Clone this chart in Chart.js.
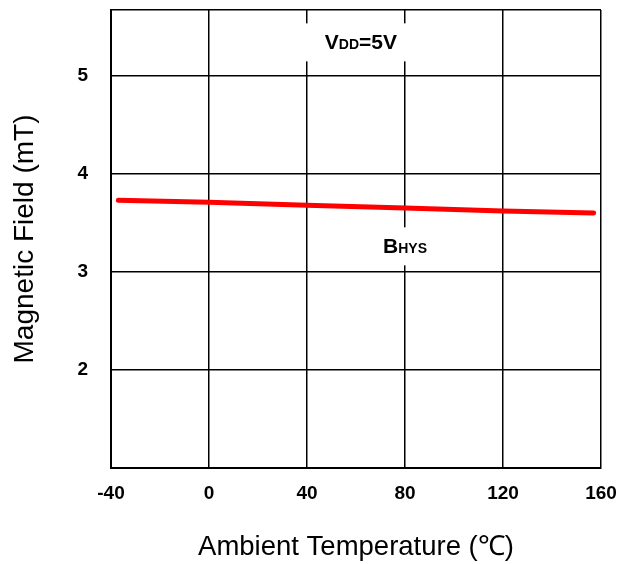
<!DOCTYPE html>
<html>
<head>
<meta charset="utf-8">
<script src="https://cdn.jsdelivr.net/npm/chart.js@4/dist/chart.umd.min.js"></script>
<style>
  html, body { margin: 0; padding: 0; background: #fff; }
  #wrap { width: 622px; height: 564px; }
</style>
</head>
<body>
<div id="wrap"><canvas id="hys"></canvas></div>
<script>
// values
var temps = [-37, 0, 40, 80, 120, 157];
var bhys = [3.73, 3.71, 3.68, 3.65, 3.62, 3.60];
var yTicks = [1, 2, 3, 4, 5, 5.67];
var yLabels = ['', '2', '3', '4', '5', ''];

var labelPlugin = {
    id: 'labels',
    beforeDatasetsDraw: function(chart) {
        var ctx = chart.ctx;
        var x = chart.scales.x, y = chart.scales.y;
        // white patch behind a label, then the label with a small subscript
        function tag(bx, cx, cy, big, small, tail, w) {
            ctx.save();
            ctx.fillStyle = '#fff';
            ctx.fillRect(bx - w / 2, cy - 19, w, 38);
            ctx.fillStyle = '#000';
            ctx.textBaseline = 'alphabetic';
            ctx.font = 'bold 21px "Liberation Sans", Arial, sans-serif';
            var w1 = ctx.measureText(big).width;
            var w3 = ctx.measureText(tail).width;
            ctx.font = 'bold 14px "Liberation Sans", Arial, sans-serif';
            var w2 = ctx.measureText(small).width;
            var sx = cx - (w1 + w2 + w3) / 2;
            var base = cy + 7;
            ctx.font = 'bold 21px "Liberation Sans", Arial, sans-serif';
            ctx.fillText(big, sx, base);
            ctx.font = 'bold 14px "Liberation Sans", Arial, sans-serif';
            ctx.fillText(small, sx + w1, base);
            ctx.font = 'bold 21px "Liberation Sans", Arial, sans-serif';
            ctx.fillText(tail, sx + w1 + w2, base);
            ctx.restore();
        }
        tag(x.getPixelForValue(60), x.getPixelForValue(62), y.getPixelForValue(5.34), 'V', 'DD', '=5V', 112);
        tag(x.getPixelForValue(80), x.getPixelForValue(80), y.getPixelForValue(3.26), 'B', 'HYS', '', 50);
    }
};

var ctx = document.getElementById('hys').getContext('2d');

var hysChart = new Chart(ctx, {
    type: 'line',
    data: {
        datasets: [{
            label: 'BHYS',
            data: temps.map(function(t, i) { return {x: t, y: bhys[i]}; }),
            borderColor: '#ff0000',
            borderWidth: 5,
            borderCapStyle: 'round',
            pointRadius: 0,
            tension: 0,
            fill: false
        }]
    },
    plugins: [labelPlugin],
    options: {
        responsive: true,
        maintainAspectRatio: false,
        animation: false,
        layout: {
            padding: {left: 0, right: 21, top: 10, bottom: 0}
        },
        plugins: {
            legend: {display: false},
            tooltip: {enabled: false}
        },
        scales: {
            x: {
                type: 'linear',
                min: -40,
                max: 160,
                afterFit: function(s) {
                    s.height = 96;
                    s.paddingLeft = 0;
                    s.paddingRight = 0;
                },
                ticks: {
                    stepSize: 40,
                    padding: 14,
                    color: '#000',
                    font: {family: '"Liberation Sans", Arial, sans-serif', size: 19, weight: 'bold'}
                },
                grid: {color: '#000', lineWidth: 1.5, drawTicks: false},
                border: {color: '#000', width: 2},
                title: {
                    display: true,
                    text: 'Ambient Temperature (\u2103)',
                    color: '#000',
                    padding: {top: 0, bottom: 0},
                    font: {family: '"Liberation Sans", Arial, sans-serif', size: 27.5}
                }
            },
            y: {
                min: 1,
                max: 5.67,
                afterFit: function(s) {
                    s.width = 111;
                    s.paddingTop = 0;
                    s.paddingBottom = 0;
                },
                afterBuildTicks: function(s) {
                    s.ticks = yTicks.map(function(v) { return {value: v}; });
                },
                ticks: {
                    padding: 23,
                    color: '#000',
                    font: {family: '"Liberation Sans", Arial, sans-serif', size: 19, weight: 'bold'},
                    callback: function(v, i) { return yLabels[i]; }
                },
                grid: {color: '#000', lineWidth: 1.5, drawTicks: false},
                border: {color: '#000', width: 2},
                title: {
                    display: true,
                    text: 'Magnetic Field (mT)',
                    color: '#000',
                    padding: {top: 8, bottom: 0},
                    font: {family: '"Liberation Sans", Arial, sans-serif', size: 28}
                }
            }
        }
    }
});
</script>
</body>
</html>
